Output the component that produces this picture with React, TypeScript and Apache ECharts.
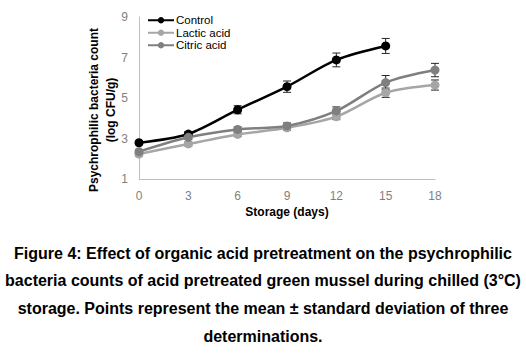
import React, { useEffect, useRef } from "react";
import * as echarts from "echarts";

const days = [0, 3, 6, 9, 12, 15, 18];
const controlMean = [2.79, 3.22, 4.42, 5.56, 6.88, 7.57];
const controlSd = [0.1, 0.12, 0.2, 0.28, 0.34, 0.37];
const lacticMean = [2.23, 2.73, 3.2, 3.53, 4.08, 5.26, 5.64];
const lacticSd = [0.1, 0.1, 0.1, 0.12, 0.15, 0.23, 0.25];
const citricMean = [2.35, 3.06, 3.45, 3.62, 4.36, 5.76, 6.38];
const citricSd = [0.1, 0.1, 0.12, 0.15, 0.2, 0.35, 0.33];
const yTicks = [1, 3, 5, 7, 9];

const yTitle = "Psychrophilic bacteria count\n(log CFU/g)";
const xTitle = "Storage (days)";
const captionLines = [
  "Figure 4: Effect of organic acid pretreatment on the psychrophilic",
  "bacteria counts of acid pretreated green mussel during chilled (3°C)",
  "storage. Points represent the mean ± standard deviation of three",
  "determinations.",
];

const FONT = "Liberation Sans, Arial, sans-serif";

function pairs(mean: number[]) {
  return mean.map((v, i) => [days[i], v]);
}

function errData(mean: number[], sd: number[]) {
  return mean.map((v, i) => [days[i], v - sd[i], v + sd[i]]);
}

function errorSeries(name: string, mean: number[], sd: number[]) {
  return {
    type: "custom",
    name: name + "-err",
    data: errData(mean, sd),
    z: 1,
    silent: true,
    renderItem: (params: any, api: any) => {
      const x = api.value(0);
      const lo = api.coord([x, api.value(1)]);
      const hi = api.coord([x, api.value(2)]);
      const w = 4;
      const style = { stroke: "#262626", lineWidth: 1 };
      return {
        type: "group",
        children: [
          { type: "line", shape: { x1: lo[0], y1: lo[1], x2: hi[0], y2: hi[1] }, style },
          { type: "line", shape: { x1: lo[0] - w, y1: lo[1], x2: lo[0] + w, y2: lo[1] }, style },
          { type: "line", shape: { x1: hi[0] - w, y1: hi[1], x2: hi[0] + w, y2: hi[1] }, style },
        ],
      };
    },
  };
}

function lineSeries(name: string, mean: number[], color: string) {
  return {
    type: "line",
    name,
    data: pairs(mean),
    smooth: 0.3,
    symbol: "circle",
    symbolSize: 9,
    z: 3,
    lineStyle: { color, width: 2.5 },
    itemStyle: { color },
  };
}

export default function App() {
  const ref = useRef<HTMLDivElement>(null);
  useEffect(() => {
    if (!ref.current) return;
    const chart = echarts.init(ref.current, null, { renderer: "svg" });
    chart.setOption({
      animation: false,
      backgroundColor: "#ffffff",
      textStyle: { fontFamily: FONT },
      grid: { left: 139, right: 91, top: 17, bottom: 175 },
      legend: {
        show: true,
        orient: "vertical",
        left: 147,
        top: 14,
        padding: 0,
        itemWidth: 26,
        itemHeight: 8,
        itemGap: 0,
        data: ["Control", "Lactic acid", "Citric acid"],
        textStyle: { fontFamily: FONT, fontSize: 11.5, color: "#000", lineHeight: 12.5, padding: [0, 0, 0, -3] },
      },
      xAxis: {
        type: "value",
        min: 0,
        max: 18,
        interval: 3,
        name: xTitle,
        nameLocation: "middle",
        nameGap: 27,
        nameTextStyle: { fontFamily: FONT, fontSize: 12, fontWeight: "bold", color: "#000" },
        axisLine: { lineStyle: { color: "#bfbfbf", width: 1 } },
        axisTick: { show: false },
        splitLine: { show: false },
        axisLabel: { fontFamily: FONT, fontSize: 12, color: "#7f7f7f", margin: 11 },
      },
      yAxis: {
        type: "value",
        min: yTicks[0],
        max: yTicks[yTicks.length - 1],
        interval: 2,
        axisLine: { show: true, lineStyle: { color: "#bfbfbf", width: 1 } },
        axisTick: { show: false },
        splitLine: { show: false },
        axisLabel: { fontFamily: FONT, fontSize: 12, color: "#7f7f7f", margin: 11 },
      },
      graphic: [
        {
          type: "text",
          x: 102,
          y: 110,
          rotation: Math.PI / 2,
          style: {
            text: yTitle,
            fontFamily: FONT,
            fontSize: 12,
            fontWeight: "bold",
            fill: "#000",
            lineHeight: 17,
            align: "center",
            verticalAlign: "middle",
          },
        },
        ...captionLines.map((t, i) => ({
          type: "text",
          left: "center",
          top: 245 + i * 27.7,
          style: { text: t, fontFamily: FONT, fontSize: 16, fontWeight: "bold", fill: "#000" },
        })),
      ],
      series: [
        errorSeries("Control", controlMean, controlSd),
        errorSeries("Lactic acid", lacticMean, lacticSd),
        errorSeries("Citric acid", citricMean, citricSd),
        lineSeries("Control", controlMean, "#000000"),
        lineSeries("Lactic acid", lacticMean, "#a6a6a6"),
        lineSeries("Citric acid", citricMean, "#7f7f7f"),
      ],
    });
    return () => chart.dispose();
  }, []);
  return <div ref={ref} style={{ width: 526, height: 354, position: "absolute", left: 0, top: 0 }} />;
}
